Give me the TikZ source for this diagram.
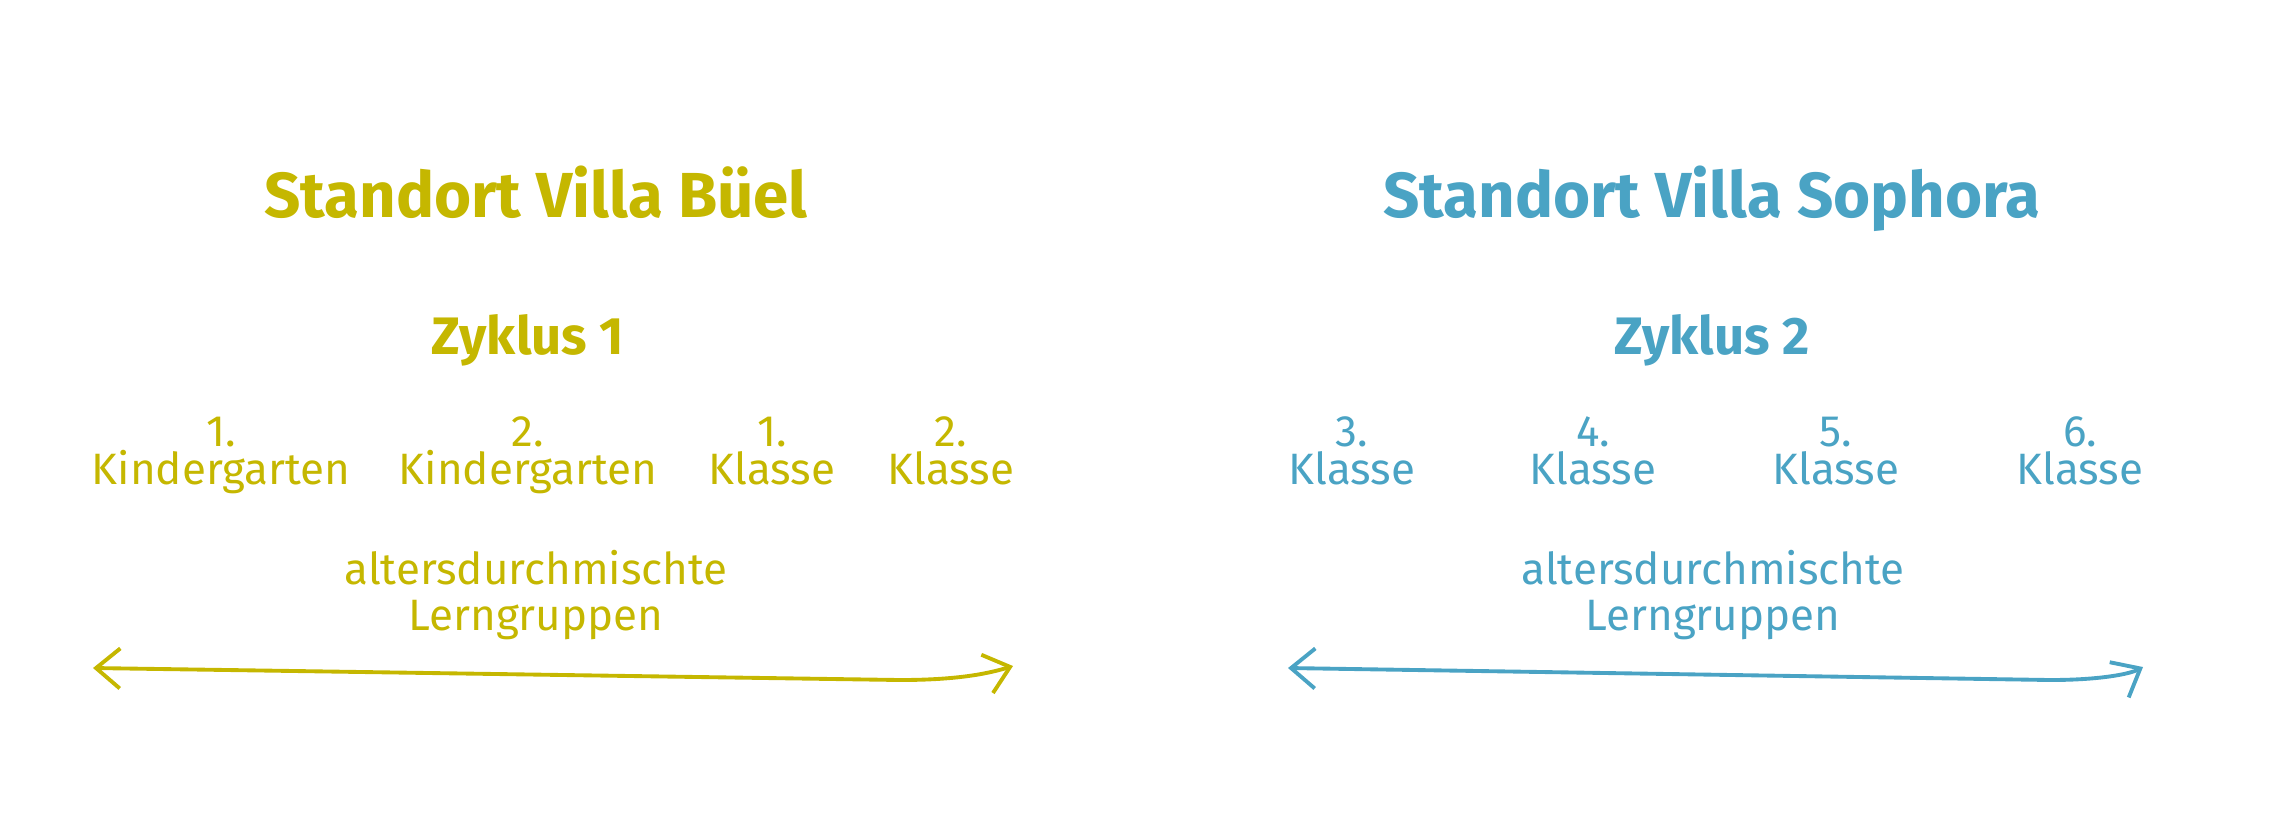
\documentclass[tikz,border=0pt]{standalone}
\usepackage{fontspec}
\setmainfont{Fira Sans}
\usetikzlibrary{arrows.meta}
\definecolor{bueel}{RGB}{197,183,0}
\definecolor{sophora}{RGB}{74,163,196}

\begin{document}
\begin{tikzpicture}[
  standort/.style={font=\bfseries\fontsize{18.1}{22}\selectfont, anchor=base, inner sep=0},
  zyklus/.style={font=\bfseries\fontsize{15}{18}\selectfont, anchor=base, inner sep=0},
  stufe/.style={font=\fontsize{12.5}{10.8}\selectfont, align=center, anchor=base, inner sep=0},
  gruppe/.style={font=\fontsize{12.5}{13}\selectfont, align=center, anchor=base, inner sep=0},
  pfeil/.style={line width=1.1pt, line cap=round, line join=round,
    {Straight Barb[length=2.4mm,width=4mm]}-{Straight Barb[length=2.4mm,width=4mm]}}]
  \useasboundingbox (0,0) rectangle (22.71,-8.33);
  % Villa Bueel
  \begin{scope}[bueel]
    \node[standort] (sb) at (5.36,-2.17) {Standort Villa Büel};
    \node[zyklus] (z1) at (5.28,-3.54) {Zyklus 1};
    \node[stufe] (kg1) at (2.21,-4.84) {1.\\Kindergarten};
    \node[stufe] (kg2) at (5.28,-4.84) {2.\\Kindergarten};
    \node[stufe] (kl1) at (7.72,-4.84) {1.\\Klasse};
    \node[stufe] (kl2) at (9.51,-4.84) {2.\\Klasse};
    \node[gruppe] (lg1) at (5.36,-6.30) {altersdurchmischte\\Lerngruppen};
    \coordinate (a1) at (0.93,-6.68);
    \coordinate (m1) at (9.0,-6.80);
    \coordinate (b1) at (10.13,-6.66);
    \draw[pfeil] (a1) -- (m1) .. controls (9.6,-6.80) and (9.9,-6.73) .. (b1);
  \end{scope}
  % Villa Sophora
  \begin{scope}[sophora]
    \node[standort] (ss) at (17.12,-2.17) {Standort Villa Sophora};
    \node[zyklus] (z2) at (17.12,-3.54) {Zyklus 2};
    \foreach \k/\x in {3/13.52,4/15.93,5/18.36,6/20.80}
      \node[stufe] (kl\k) at (\x,-4.84) {\k.\\Klasse};
    \node[gruppe] (lg2) at (17.13,-6.30) {altersdurchmischte\\Lerngruppen};
    \coordinate (a2) at (12.88,-6.68);
    \coordinate (m2) at (20.5,-6.80);
    \coordinate (b2) at (21.43,-6.67);
    \draw[pfeil] (a2) -- (m2) .. controls (21.0,-6.80) and (21.3,-6.74) .. (b2);
  \end{scope}
\end{tikzpicture}
\end{document}
